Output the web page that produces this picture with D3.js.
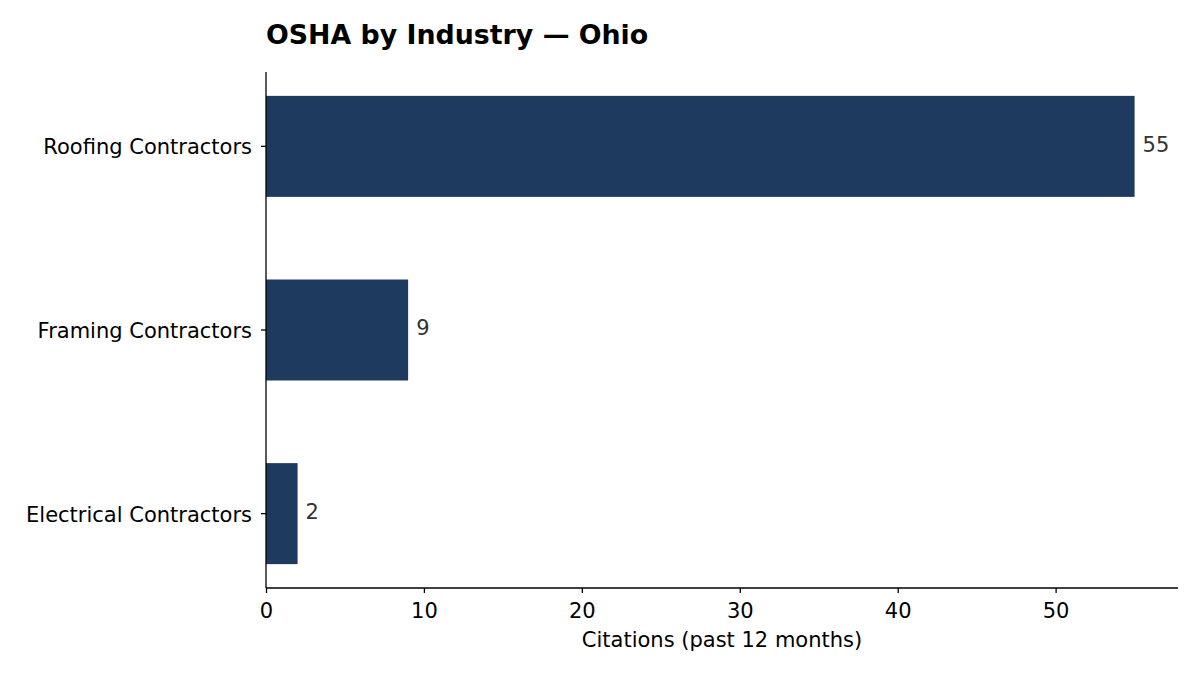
<!DOCTYPE html>
<html>
<head>
<meta charset="utf-8">
<script src="https://cdn.jsdelivr.net/npm/d3@7"></script>
<style>
  body { margin: 0; background: #fff; }
  svg { font-family: "DejaVu Sans", sans-serif; }
</style>
</head>
<body>
<div id="chart"></div>
<script>
// DATA
var industries = ["Roofing Contractors", "Framing Contractors", "Electrical Contractors"];
var citations = [55, 9, 2];
var xTicks = [0, 10, 20, 30, 40, 50];

var W = 1200, H = 675;
var margin = {top: 72, right: 22, bottom: 87, left: 266};
var width = W - margin.left - margin.right,
    height = H - margin.top - margin.bottom;

var FONT = 21;

var svg = d3.select("#chart").append("svg")
  .attr("width", W)
  .attr("height", H);

var g = svg.append("g")
  .attr("transform", `translate(${margin.left}, ${margin.top})`);

var data = industries.map(function(d, i) { return {name: d, value: citations[i]}; });

// 5% margin on the x extent
var xMax = d3.max(citations) * 1.05;
var xScale = d3.scaleLinear()
  .domain([0, xMax])
  .range([0, width]);

var yScale = d3.scaleBand()
  .domain(industries)
  .range([0, height])
  .paddingInner(0.45)
  .paddingOuter(0.13);

// BARS
g.selectAll("rect.bar")
  .data(data)
  .enter().append("rect")
  .attr("class", "bar")
  .attr("x", xScale(0))
  .attr("y", function(d) { return yScale(d.name); })
  .attr("width", function(d) { return xScale(d.value) - xScale(0); })
  .attr("height", yScale.bandwidth())
  .attr("fill", "#1f3a5f");

// VALUE LABELS
g.selectAll("text.val")
  .data(data)
  .enter().append("text")
  .attr("class", "val")
  .attr("x", function(d) { return xScale(d.value) + 8; })
  .attr("y", function(d) { return yScale(d.name) + yScale.bandwidth() / 2 - 2; })
  .attr("dy", "0.35em")
  .attr("font-size", FONT)
  .attr("fill", "#333333")
  .text(function(d) { return d.value; });

// AXES
var xAxis = d3.axisBottom(xScale)
  .tickValues(xTicks)
  .tickSize(5)
  .tickPadding(10);

var yAxis = d3.axisLeft(yScale)
  .tickSize(5)
  .tickPadding(9);

var gx = g.append("g")
  .attr("transform", `translate(0, ${height})`)
  .call(xAxis);

var gy = g.append("g")
  .call(yAxis);

[gx, gy].forEach(function(ax) {
  ax.attr("font-family", "DejaVu Sans, sans-serif").attr("font-size", FONT);
  ax.select(".domain").attr("stroke", "#000").attr("stroke-width", 1.3);
  ax.selectAll(".tick line").attr("stroke", "#000").attr("stroke-width", 1.3);
  ax.selectAll(".tick text").attr("fill", "#000");
});
gy.selectAll(".tick text").attr("dy", "0.38em");
// flat spine ends
gx.select(".domain").attr("d", `M0,0H${width}`);
gy.select(".domain").attr("d", `M0,0V${height}`);

// AXIS LABEL
g.append("text")
  .attr("x", width / 2)
  .attr("y", height + 59)
  .attr("text-anchor", "middle")
  .attr("font-size", FONT)
  .attr("fill", "#000")
  .text("Citations (past 12 months)");

// TITLE
svg.append("text")
  .attr("x", margin.left)
  .attr("y", 43.5)
  .attr("font-size", 26.8)
  .attr("font-weight", "bold")
  .attr("fill", "#000")
  .text("OSHA by Industry \u2014 Ohio");
</script>
</body>
</html>
